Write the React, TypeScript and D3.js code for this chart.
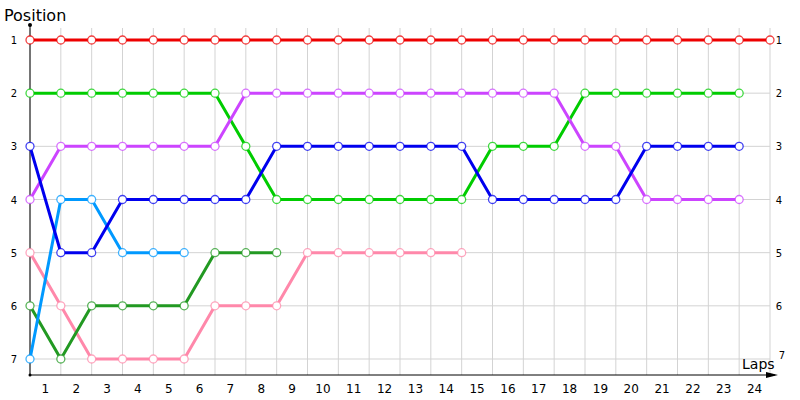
import * as d3 from "d3";

const laps = d3.range(1, 25);
const positions = [1, 2, 3, 4, 5, 6, 7];

const redSeries = [1, 1, 1, 1, 1, 1, 1, 1, 1, 1, 1, 1, 1, 1, 1, 1, 1, 1, 1, 1, 1, 1, 1, 1, 1];
const greenSeries = [2, 2, 2, 2, 2, 2, 2, 3, 4, 4, 4, 4, 4, 4, 4, 3, 3, 3, 2, 2, 2, 2, 2, 2];
const purpleSeries = [4, 3, 3, 3, 3, 3, 3, 2, 2, 2, 2, 2, 2, 2, 2, 2, 2, 2, 3, 3, 4, 4, 4, 4];
const blueSeries = [3, 5, 5, 4, 4, 4, 4, 4, 3, 3, 3, 3, 3, 3, 3, 4, 4, 4, 4, 4, 3, 3, 3, 3];
const skySeries = [7, 4, 4, 5, 5, 5];
const darkGreenSeries = [6, 7, 6, 6, 6, 6, 5, 5, 5];
const pinkSeries = [5, 6, 7, 7, 7, 7, 6, 6, 6, 5, 5, 5, 5, 5, 5];

const series = [
  { name: "red", color: "#ee0000", values: redSeries },
  { name: "pink", color: "#ff88aa", values: pinkSeries },
  { name: "darkgreen", color: "#229922", values: darkGreenSeries },
  { name: "sky", color: "#0099ff", values: skySeries },
  { name: "green", color: "#00cc00", values: greenSeries },
  { name: "purple", color: "#cc44ff", values: purpleSeries },
  { name: "blue", color: "#0000ee", values: blueSeries },
];

export default function App() {
  const width = 800;
  const height = 400;
  const left = 30;
  const right = 770;
  const axisY = 375;
  const font = "Tahoma, 'DejaVu Sans', sans-serif";

  const x = d3.scaleLinear().domain([0, 24]).range([left, right]);
  const y = d3.scaleLinear().domain([1, 7]).range([40, 359]);
  const line = d3
    .line<number>()
    .x((_, i) => x(i))
    .y((d) => y(d));

  return (
    <svg
      width={width}
      height={height}
      style={{ position: "absolute", left: 0, top: 0, background: "#fff" }}
    >
      {d3.range(0, 25).map((i) => (
        <line key={`vx${i}`} x1={x(i)} x2={x(i)} y1={28} y2={axisY} stroke="#d3d3d3" />
      ))}
      {positions.map((p) => (
        <g key={`p${p}`}>
          <line x1={left} x2={right} y1={y(p)} y2={y(p)} stroke="#d3d3d3" />
          <text x={14} y={y(p) + 4} fontSize={10} fontFamily={font} textAnchor="middle">
            {p}
          </text>
          <text
            x={p === 7 ? 782 : 779}
            y={y(p) + (p === 7 ? 0 : 4)}
            fontSize={10}
            fontFamily={font}
            textAnchor="middle"
          >
            {p}
          </text>
        </g>
      ))}
      <line x1={left} x2={left} y1={25} y2={axisY} stroke="#000" />
      <circle cx={left} cy={25} r={2} fill="#000" />
      <circle cx={left} cy={axisY} r={1.5} fill="#000" />
      <line x1={left} x2={775} y1={axisY} y2={axisY} stroke="#000" />
      <path d={`M766,${axisY - 3} L778,${axisY} L766,${axisY + 3} Z`} fill="#000" />
      {laps.map((lap) => (
        <text
          key={`l${lap}`}
          x={(x(lap - 1) + x(lap)) / 2}
          y={393}
          fontSize={12}
          fontFamily={font}
          textAnchor="middle"
        >
          {lap}
        </text>
      ))}
      <text x={4} y={21} fontSize={16} fontFamily={font}>
        Position
      </text>
      <text x={742} y={369} fontSize={14} fontFamily={font}>
        Laps
      </text>
      {series.map((s) => (
        <g key={s.name}>
          <path d={line(s.values) ?? ""} fill="none" stroke={s.color} strokeWidth={3} />
          {s.values.map((v, i) => (
            <circle
              key={i}
              cx={x(i)}
              cy={y(v)}
              r={4}
              fill="#fff"
              stroke={s.color}
              strokeOpacity={0.75}
              strokeWidth={1.3}
            />
          ))}
        </g>
      ))}
    </svg>
  );
}
